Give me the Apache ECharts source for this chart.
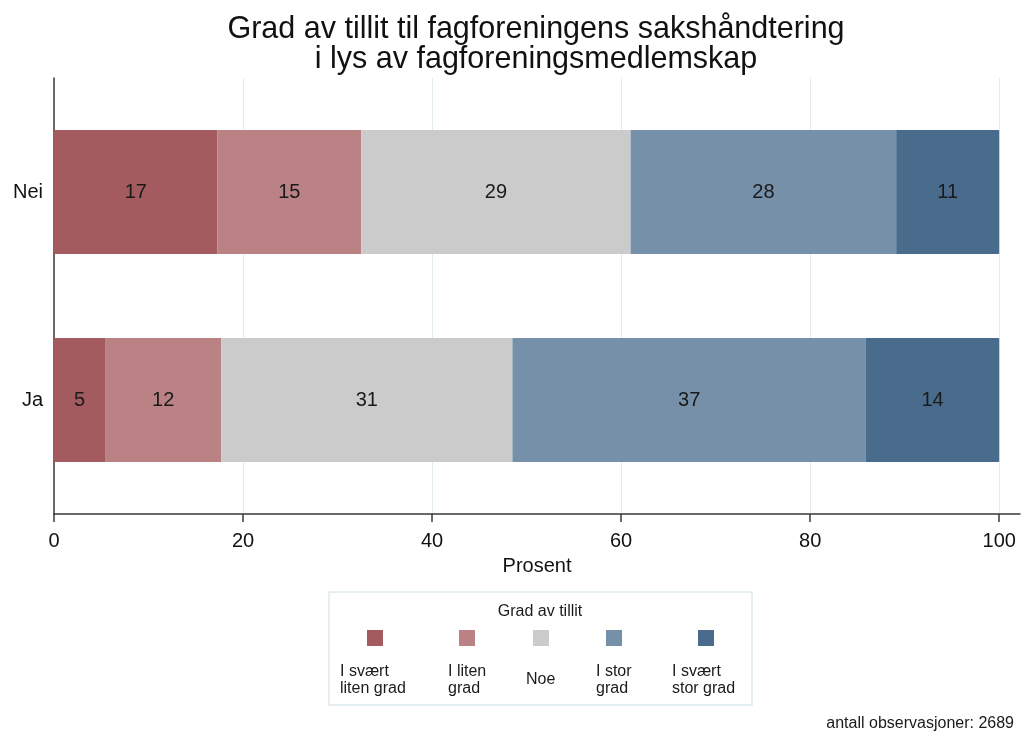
<!DOCTYPE html>
<html>
<head>
    <meta charset="utf-8">
    <title>Grad av tillit</title>
    <script src="https://cdn.jsdelivr.net/npm/echarts@6/dist/echarts.min.js"></script>
</head>
<body style="margin:0">
    <div id="main" style="width: 1022px;height:736px;"></div>
    <script type="text/javascript">
        // data
        var categories = ['Ja', 'Nei'];
        var levels = ['I svært liten grad', 'I liten grad', 'Noe', 'I stor grad', 'I svært stor grad'];
        var legendLabels = ['I svært\nliten grad', 'I liten\ngrad', 'Noe', 'I stor\ngrad', 'I svært\nstor grad'];
        // percent per level, [Ja, Nei]
        var svaertLiten = [5.4, 17.3];
        var liten = [12.3, 15.2];
        var noe = [30.8, 28.5];
        var stor = [37.4, 28.1];
        var svaertStor = [14.1, 10.9];
        var xTicks = [0, 20, 40, 60, 80, 100];
        var nObs = 2689;

        var colors = ['#a45b60', '#bb8285', '#cbcbcb', '#7690aa', '#496c8d'];
        var values = [svaertLiten, liten, noe, stor, svaertStor];
        var font = '"Liberation Sans", Arial, sans-serif';

        var myChart = echarts.init(document.getElementById('main'));

        // one legend per item, icons only (text below comes from graphic)
        var iconX = [367, 459, 533, 606, 698];
        var legendX = [340, 448, 526, 596, 672];
        var legends = levels.map(function (name, i) {
            return {
                data: [name],
                left: iconX[i],
                top: 630,
                padding: 0,
                icon: 'rect',
                itemWidth: 16,
                itemHeight: 16,
                selectedMode: false,
                formatter: function () { return ''; }
            };
        });

        var series = levels.map(function (name, i) {
            return {
                name: name,
                type: 'bar',
                stack: 'total',
                xAxisIndex: 0,
                yAxisIndex: 0,
                barWidth: 124,
                data: values[i],
                itemStyle: { color: colors[i] },
                label: {
                    show: true,
                    position: 'inside',
                    color: '#1a1a1a',
                    fontFamily: font,
                    fontSize: 20,
                    formatter: function (p) { return Math.round(p.value); }
                },
                emphasis: { disabled: true }
            };
        });

        var graphic = [
            {
                type: 'rect',
                shape: { x: 329, y: 592, width: 423, height: 113 },
                style: { fill: 'none', stroke: '#dde9ec', lineWidth: 1.5 }
            },
            {
                type: 'text',
                x: 540, y: 612,
                style: { text: 'Grad av tillit', fontFamily: font, fontSize: 16, fill: '#1a1a1a', align: 'center', verticalAlign: 'middle' }
            },
            {
                type: 'text',
                x: 1014, y: 724,
                style: { text: 'antall observasjoner: ' + nObs, fontFamily: font, fontSize: 16, fill: '#1a1a1a', align: 'right', verticalAlign: 'middle' }
            }
        ];
        legendLabels.forEach(function (t, i) {
            graphic.push({
                type: 'text',
                x: legendX[i], y: 680,
                style: { text: t, fontFamily: font, fontSize: 16, lineHeight: 17, fill: '#1a1a1a', align: 'left', verticalAlign: 'middle' }
            });
        });

        var option = {
            backgroundColor: '#ffffff',
            animation: false,
            title: {
                text: 'Grad av tillit til fagforeningens sakshåndtering\ni lys av fagforeningsmedlemskap',
                left: 536,
                top: 15,
                padding: 0,
                textAlign: 'center',
                textStyle: { fontFamily: font, fontSize: 30.5, lineHeight: 30, fontWeight: 'normal', color: '#111' }
            },
            legend: legends,
            grid: [
                { left: 54, right: 2, top: 88, bottom: 232 },   // bars
                { left: 54, right: 2, top: 78, bottom: 222 }    // frame, axes
            ],
            xAxis: [
                { gridIndex: 0, type: 'value', min: 0, max: 102.2, show: false },
                {
                    gridIndex: 1, type: 'value', min: 0, max: 102.2, interval: 20,
                    name: 'Prosent', nameLocation: 'middle', nameGap: 42,
                    nameTextStyle: { fontFamily: font, fontSize: 20, color: '#111' },
                    axisLine: { show: true, onZero: false, lineStyle: { color: '#3a3a3a', width: 1.5 } },
                    axisTick: { show: true, length: 8, customValues: xTicks, lineStyle: { color: '#3a3a3a', width: 1.5 } },
                    axisLabel: { customValues: xTicks, margin: 17, fontFamily: font, fontSize: 20, color: '#111' },
                    splitLine: { show: true, lineStyle: { color: '#e3edf0', width: 1 } }
                }
            ],
            yAxis: [
                {
                    gridIndex: 0, type: 'category', data: categories,
                    axisLine: { show: false }, axisTick: { show: false },
                    axisLabel: { margin: 11, fontFamily: font, fontSize: 20, color: '#111' }
                },
                {
                    gridIndex: 1, type: 'value', min: 0, max: 1,
                    axisLine: { show: true, lineStyle: { color: '#3a3a3a', width: 1.5 } },
                    axisTick: { show: false }, axisLabel: { show: false }, splitLine: { show: false }
                }
            ],
            graphic: graphic,
            series: series
        };
        myChart.setOption(option);
    </script>
</body>
</html>
